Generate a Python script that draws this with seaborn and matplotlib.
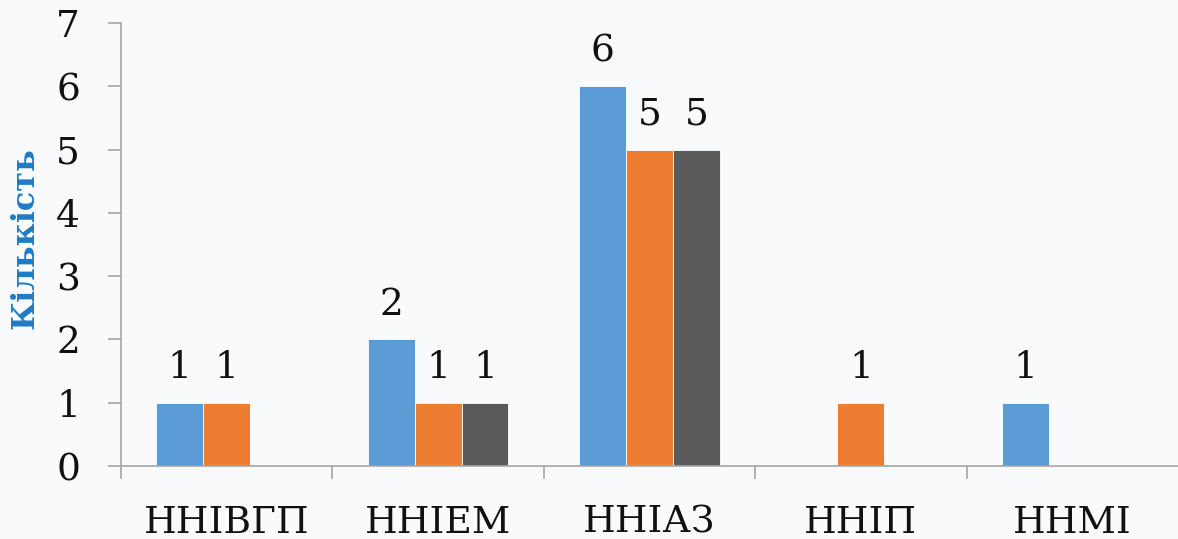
import matplotlib
matplotlib.use("Agg")
import matplotlib.pyplot as plt
import seaborn as sns
import pandas as pd
from matplotlib.ticker import FixedLocator

categories = ["ННІВГП", "ННІЕМ", "ННІАЗ", "ННІП", "ННМІ"]
series_names = ["Ряд 1", "Ряд 2", "Ряд 3"]
series1 = [1, 2, 6, 0, 1]
series2 = [1, 1, 5, 1, 0]
series3 = [0, 1, 5, 0, 0]
colors = ["#5b9bd5", "#ed7d31", "#595959"]
y_ticks = [0, 1, 2, 3, 4, 5, 6, 7]

rows = []
for name, vals in zip(series_names, [series1, series2, series3]):
    for c, v in zip(categories, vals):
        rows.append({"cat": c, "series": name, "value": v})
df = pd.DataFrame(rows)

sns.set_style("white")
plt.rcParams["font.family"] = ["DejaVu Serif"]
bg = "#f9fafc"

fig = plt.figure(figsize=(11.78, 5.39), dpi=100, facecolor=bg)
ax = fig.add_axes([0.1027, 0.1354, 0.8973, 0.8219])
ax.set_facecolor(bg)

sns.barplot(data=df, x="cat", y="value", hue="series", order=categories,
            hue_order=series_names, palette=colors, width=0.666,
            saturation=1, legend=False, ax=ax, edgecolor="white", linewidth=0.6)

for cont in ax.containers:
    for bar in cont:
        h = bar.get_height()
        if h > 0:
            ax.annotate(f"{int(h)}", (bar.get_x() + bar.get_width() / 2, h),
                        xytext=(0, 12), textcoords="offset points",
                        ha="center", va="bottom", fontsize=27, color="#111111")

ax.set_ylim(0, 7)
ax.set_xlim(-0.5, 4.5)
ax.set_yticks(y_ticks)
ax.set_yticklabels([str(t) for t in y_ticks])
ax.xaxis.set_minor_locator(FixedLocator([-0.5, 0.5, 1.5, 2.5, 3.5]))

spine_c = "#a6a6a6"
for s in ["top", "right"]:
    ax.spines[s].set_visible(False)
for s in ["left", "bottom"]:
    ax.spines[s].set_color(spine_c)
    ax.spines[s].set_linewidth(1.2)

ax.tick_params(axis="y", which="major", length=9.5, width=1.2, color=spine_c,
               labelsize=27, pad=20, labelcolor="#111111", left=True)
ax.tick_params(axis="x", which="major", length=0, labelsize=27, pad=28,
               labelcolor="#111111")
ax.tick_params(axis="x", which="minor", length=9, width=1.2, color=spine_c,
               bottom=True)
ax.spines["left"].set_bounds(0, 7)

ax.set_xlabel("")
ax.set_ylabel("Кількість", fontsize=23, fontweight="heavy", color="#1f7bc4")
ax.yaxis.set_label_coords(-0.076, 0.515)

fig.savefig("out.png", dpi=100, facecolor=bg)
